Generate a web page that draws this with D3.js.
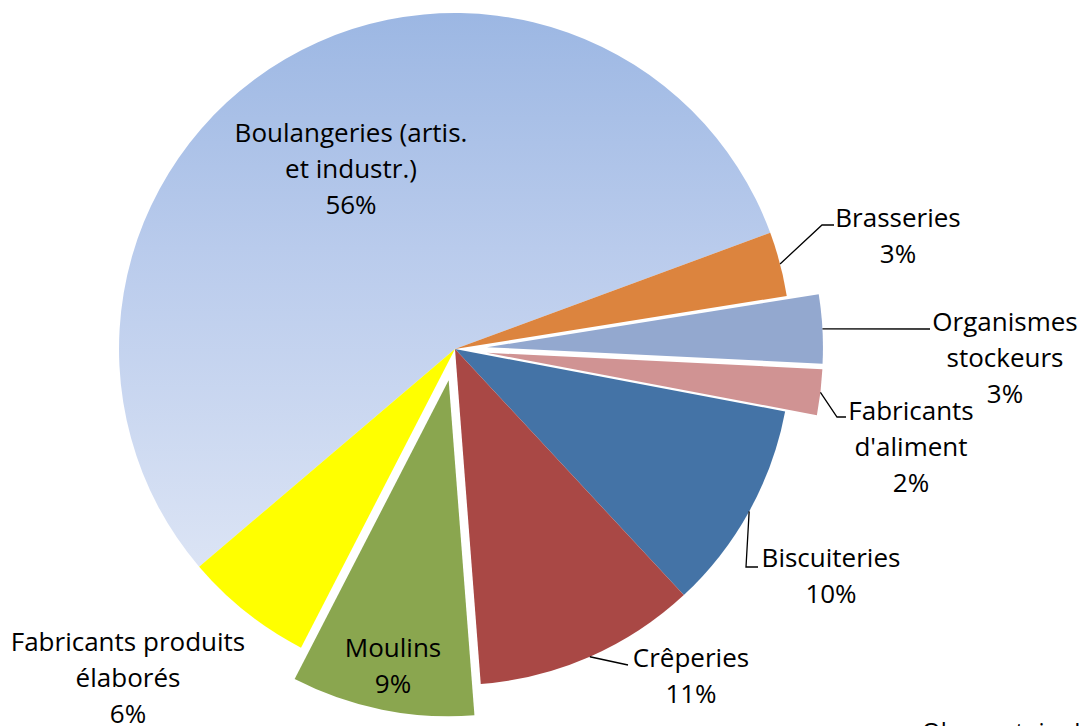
<!DOCTYPE html>
<html>
<head>
<meta charset="utf-8">
<script src="https://cdn.jsdelivr.net/npm/d3@7"></script>
<style>
  body { margin: 0; background: #fff; }
  svg text { font-family: "Open Sans", Lato, sans-serif; fill: #000; }
</style>
</head>
<body>
<svg id="chart" width="1081" height="726"></svg>
<script>
// ---- data (shares in %) ----
var categories = ["Boulangeries (artis. et industr.)", "Brasseries", "Organismes stockeurs",
  "Fabricants d'aliment", "Biscuiteries", "Crêperies", "Moulins", "Fabricants produits élaborés"];
var shares = [55.6, 3.1, 3.3, 2.2, 10.1, 10.7, 8.8, 6.2];
var labelLines = [["Boulangeries (artis.", "et industr.)"], ["Brasseries"], ["Organismes", "stockeurs"],
  ["Fabricants", "d'aliment"], ["Biscuiteries"], ["Crêperies"], ["Moulins"], ["Fabricants produits", "élaborés"]];
var exploded = [false, false, true, true, false, false, true, false];
var colors = ["url(#boulGrad)", "#dc843e", "#93a8cf", "#d09393", "#4473a6", "#a94845", "#8aa64f", "#ffff00"];

// ---- layout ----
var cx = 455, cy = 349, r = 336, explode = 32;
var startDeg = -130.4;
var lineH = 36;
// label anchor (centre x, first line centre y) and leader elbow/end points
var labelPos = [
  { x: 351, y: 133 },
  { x: 898, y: 218, leader: [[822, 225], [834, 225]] },
  { x: 1005, y: 322, leader: [[930, 329]] },
  { x: 911, y: 411, leader: [[837, 417], [846, 417]] },
  { x: 831, y: 558, leader: [[746, 567], [758, 567]] },
  { x: 691, y: 658, leader: [[628, 665]] },
  { x: 393, y: 648 },
  { x: 128, y: 642 }
];

var svg = d3.select("#chart");

// gradient for the big slice (in the pie group's local coordinates)
var grad = svg.append("defs").append("linearGradient")
  .attr("id", "boulGrad")
  .attr("gradientUnits", "userSpaceOnUse")
  .attr("x1", 0).attr("y1", -r).attr("x2", 0).attr("y2", r);
grad.append("stop").attr("offset", "0%").attr("stop-color", "#9cb7e3");
grad.append("stop").attr("offset", "35%").attr("stop-color", "#b9cbec");
grad.append("stop").attr("offset", "100%").attr("stop-color", "#e8edf8");

var pie = d3.pie().sort(null).value(function(d) { return d; })
  .startAngle(startDeg * Math.PI / 180)
  .endAngle(startDeg * Math.PI / 180 + 2 * Math.PI);
var arcs = pie(shares);
var arc = d3.arc().innerRadius(0).outerRadius(r);

function offsetOf(d, i) {
  if (!exploded[i]) return [0, 0];
  var m = (d.startAngle + d.endAngle) / 2;
  return [explode * Math.sin(m), -explode * Math.cos(m)];
}

var g = svg.append("g").attr("transform", "translate(" + cx + "," + cy + ")");

g.selectAll(".slice")
  .data(arcs).enter().append("path")
  .attr("class", "slice")
  .attr("transform", function(d, i) { var o = offsetOf(d, i); return "translate(" + o[0] + "," + o[1] + ")"; })
  .attr("d", arc)
  .attr("fill", function(d, i) { return colors[i]; });

// leader lines: start on the slice's outer edge at its mid angle
arcs.forEach(function(d, i) {
  var lp = labelPos[i];
  if (!lp.leader) return;
  var m = (d.startAngle + d.endAngle) / 2;
  var o = offsetOf(d, i);
  var p0 = [cx + o[0] + r * Math.sin(m), cy + o[1] - r * Math.cos(m)];
  svg.append("path")
    .attr("d", d3.line()([p0].concat(lp.leader)))
    .attr("fill", "none")
    .attr("stroke", "#000")
    .attr("stroke-width", 1.3);
});

// labels
arcs.forEach(function(d, i) {
  var lp = labelPos[i];
  var lines = labelLines[i].concat([Math.round(shares[i]) + "%"]);
  var t = svg.append("text")
    .attr("text-anchor", "middle")
    .attr("font-size", 26);
  lines.forEach(function(s, k) {
    t.append("tspan")
      .attr("x", lp.x)
      .attr("y", lp.y + k * lineH)
      .attr("dy", "0.35em")
      .text(s);
  });
});

// source note, cut by the bottom edge as in the original
svg.append("text")
  .attr("x", 922).attr("y", 740)
  .attr("font-size", 24)
  .text("Observatoire IRIS");
</script>
</body>
</html>
